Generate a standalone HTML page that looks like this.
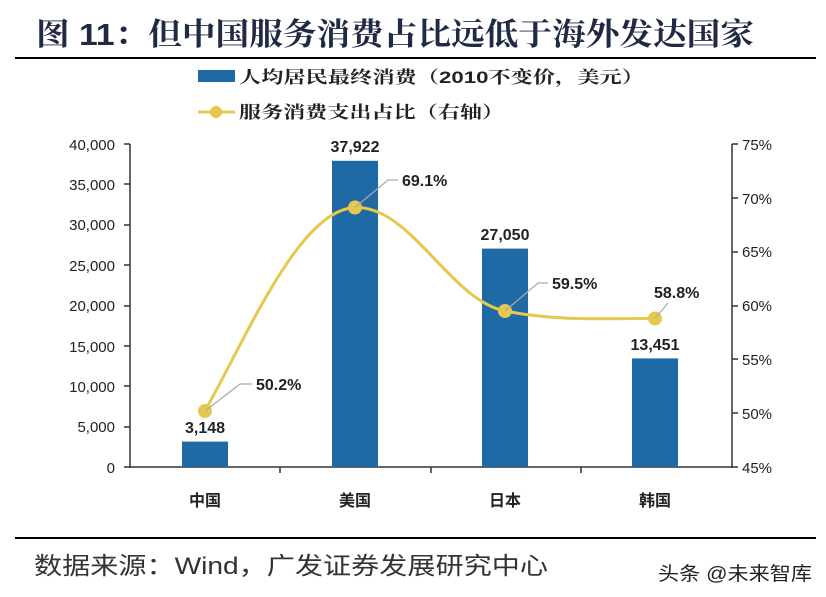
<!DOCTYPE html>
<html><head><meta charset="utf-8"><style>
body{margin:0;background:#fff;width:826px;height:597px;overflow:hidden}
svg{display:block}
text{font-family:"Liberation Sans","Noto Sans CJK SC",sans-serif}
</style></head><body>
<svg width="826" height="597" viewBox="0 0 826 597">
<text x="36" y="45" font-size="31" font-weight="bold" fill="#1f2a44" textLength="718" lengthAdjust="spacingAndGlyphs" style="font-family:'Liberation Sans','Noto Serif CJK SC',serif">图 11：但中国服务消费占比远低于海外发达国家</text>
<line x1="15" y1="58" x2="816" y2="58" stroke="#000" stroke-width="2"/>
<rect x="198" y="70" width="37" height="12" fill="#1f6aa5"/>
<text x="239" y="83" font-size="17" font-weight="bold" fill="#222" textLength="405" lengthAdjust="spacingAndGlyphs" style="font-family:'Liberation Sans','Noto Serif CJK SC',serif">人均居民最终消费（2010不变价，美元）</text>
<line x1="198" y1="112" x2="235" y2="112" stroke="#e6c84e" stroke-width="3"/>
<circle cx="216" cy="112" r="6" fill="#e6c84e"/>
<text x="239" y="118" font-size="17" font-weight="bold" fill="#222" textLength="265" lengthAdjust="spacingAndGlyphs" style="font-family:'Liberation Sans','Noto Serif CJK SC',serif">服务消费支出占比（右轴）</text>
<g font-size="15" fill="#222" text-anchor="end">
<text x="115" y="473">0</text><text x="115" y="432">5,000</text><text x="115" y="392">10,000</text><text x="115" y="352">15,000</text><text x="115" y="311">20,000</text><text x="115" y="271">25,000</text><text x="115" y="230">30,000</text><text x="115" y="190">35,000</text><text x="115" y="150">40,000</text>
</g>
<g font-size="15" fill="#222">
<text x="742" y="473">45%</text><text x="742" y="419">50%</text><text x="742" y="365">55%</text><text x="742" y="311">60%</text><text x="742" y="257">65%</text><text x="742" y="204">70%</text><text x="742" y="150">75%</text>
</g>
<g stroke="#333" stroke-width="1.5">
<line x1="130" y1="144" x2="130" y2="468"/>
<line x1="732" y1="144" x2="732" y2="468"/>
<line x1="130" y1="467" x2="732" y2="467"/>
<path d="M124 467h6M124 427h6M124 386h6M124 346h6M124 306h6M124 265h6M124 225h6M124 184h6M124 144h6"/>
<path d="M732 467h6M732 413h6M732 359h6M732 306h6M732 252h6M732 198h6M732 144h6"/>
<path d="M280 467v6M431 467v6M581 467v6"/>
</g>
<g fill="#1f6aa5">
<rect x="182" y="441.6" width="46" height="25.4"/>
<rect x="332" y="160.8" width="46" height="306.2"/>
<rect x="482" y="248.6" width="46" height="218.4"/>
<rect x="632" y="358.4" width="46" height="108.6"/>
</g>
<g font-size="16" font-weight="bold" fill="#222" text-anchor="middle">
<text x="205" y="433">3,148</text><text x="355" y="152">37,922</text><text x="505" y="240">27,050</text><text x="655" y="350">13,451</text>
</g>
<path d="M205 411 C250 330,300 210,355 207.5 C410 205,450 300,505 311 C560 322,610 318,655 318.5" fill="none" stroke="#e6c84e" stroke-width="3"/>
<g fill="#e6c84e"><circle cx="205" cy="411" r="7"/><circle cx="355" cy="207.5" r="7"/><circle cx="505" cy="311" r="7"/><circle cx="655" cy="318.5" r="7"/></g>
<g stroke="#aaa" stroke-width="1.2" fill="none">
<path d="M205 411L240 384H252"/><path d="M355 207.5L388 180H398"/><path d="M505 311L538 283H548"/><path d="M655 318.5L668 303"/>
</g>
<g font-size="16" font-weight="bold" fill="#222">
<text x="256" y="390">50.2%</text><text x="402" y="186">69.1%</text><text x="552" y="289">59.5%</text><text x="654" y="298">58.8%</text>
</g>
<g font-size="16" font-weight="bold" fill="#222" text-anchor="middle" style="font-family:'Liberation Sans','Noto Serif CJK SC',serif">
<text x="205" y="506">中国</text><text x="355" y="506">美国</text><text x="505" y="506">日本</text><text x="655" y="506">韩国</text>
</g>
<line x1="15" y1="538" x2="816" y2="538" stroke="#000" stroke-width="2"/>
<text x="34" y="574" font-size="24" fill="#333" textLength="514" lengthAdjust="spacingAndGlyphs">数据来源：Wind，广发证券发展研究中心</text>
<text x="658" y="580" font-size="19" fill="#222" textLength="154" lengthAdjust="spacingAndGlyphs">头条 @未来智库</text>
</svg>
</body></html>
